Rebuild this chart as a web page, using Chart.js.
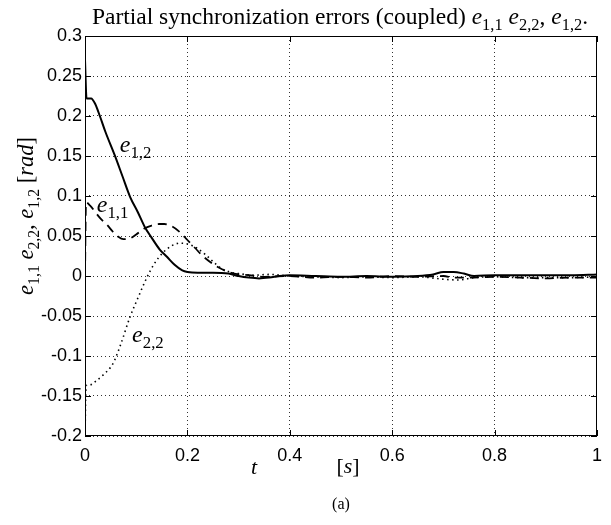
<!DOCTYPE html>
<html>
<head>
<meta charset="utf-8">
<script src="https://cdn.jsdelivr.net/npm/chart.js@4/dist/chart.umd.min.js"></script>
<style>
html,body{margin:0;padding:0;background:#fff;}
#wrap{width:611px;height:525px;position:relative;}
</style>
</head>
<body>
<div id="wrap"><canvas id="c" width="611" height="525"></canvas></div>
<script>
// ---- data ----
const xTickValues = [0, 0.2, 0.4, 0.6, 0.8, 1];
const xTickLabels = ['0', '0.2', '0.4', '0.6', '0.8', '1'];
const yTickValues = [-0.2, -0.15, -0.1, -0.05, 0, 0.05, 0.1, 0.15, 0.2, 0.25, 0.3];
const yTickLabels = ['-0.2', '-0.15', '-0.1', '-0.05', '0', '0.05', '0.1', '0.15', '0.2', '0.25', '0.3'];

// e_{1,2} (solid)
const tE12 = [0, 0.003, 0.012, 0.02, 0.029, 0.04, 0.058, 0.073, 0.088, 0.103, 0.117, 0.13, 0.146, 0.16, 0.175, 0.19, 0.2, 0.22, 0.25, 0.28, 0.3, 0.32, 0.34, 0.36, 0.38, 0.4, 0.45, 0.5, 0.55, 0.6, 0.65, 0.68, 0.7, 0.72, 0.74, 0.76, 0.8, 0.85, 0.9, 0.95, 1];
const vE12 = [0.27, 0.222, 0.222, 0.215, 0.2, 0.18, 0.151, 0.125, 0.099, 0.08, 0.061, 0.048, 0.033, 0.024, 0.014, 0.007, 0.005, 0.004, 0.004, 0.003, 0.0, -0.002, -0.003, -0.002, 0.0, 0.001, 0.0, -0.001, 0.0, -0.001, 0.0, 0.002, 0.005, 0.005, 0.003, 0.0, 0.001, 0.001, 0.001, 0.001, 0.002];

// e_{1,1} (dashed)
const tE11 = [0, 0.002, 0.01, 0.02, 0.03, 0.043, 0.055, 0.065, 0.075, 0.088, 0.1, 0.115, 0.13, 0.145, 0.155, 0.17, 0.185, 0.2, 0.215, 0.23, 0.25, 0.263, 0.28, 0.3, 0.32, 0.35, 0.4, 0.45, 0.5, 0.55, 0.6, 0.65, 0.7, 0.72, 0.75, 0.8, 0.85, 0.9, 0.95, 1];
const vE11 = [0.0, 0.092, 0.088, 0.08, 0.072, 0.064, 0.055, 0.049, 0.046, 0.047, 0.052, 0.059, 0.063, 0.065, 0.065, 0.062, 0.055, 0.045, 0.035, 0.025, 0.015, 0.01, 0.005, 0.002, 0.001, -0.001, 0.0, -0.002, -0.001, -0.002, 0.0, -0.001, 0.0, -0.002, -0.002, -0.001, -0.002, -0.003, -0.002, -0.002];

// e_{2,2} (dotted)
const tE22 = [0, 0.002, 0.01, 0.02, 0.035, 0.055, 0.07, 0.088, 0.105, 0.12, 0.135, 0.152, 0.17, 0.185, 0.2, 0.218, 0.235, 0.25, 0.265, 0.283, 0.3, 0.33, 0.36, 0.4, 0.45, 0.5, 0.55, 0.6, 0.65, 0.7, 0.73, 0.76, 0.8, 0.85, 0.9, 0.95, 1];
const vE22 = [-0.2, -0.137, -0.136, -0.132, -0.124, -0.109, -0.085, -0.051, -0.025, -0.003, 0.015, 0.029, 0.038, 0.041, 0.04, 0.035, 0.027, 0.018, 0.01, 0.005, 0.003, 0.001, 0.002, 0.0, -0.001, -0.002, -0.001, -0.002, -0.001, -0.004, -0.005, -0.002, -0.001, -0.002, -0.002, -0.002, -0.001];

const pts = (ts, vs) => ts.map((t, i) => ({x: t, y: vs[i]}));

// ---- rich text helper (italic / subscript runs) ----
function richWidth(ctx, runs, size, family) {
  let w = 0;
  for (const r of runs) {
    const s = r.sub ? size * 0.7 : size;
    ctx.font = (r.it ? 'italic ' : '') + s + 'px ' + family;
    w += ctx.measureText(r.t).width;
  }
  return w;
}
function drawRich(ctx, runs, x, y, size, family, align) {
  let w = richWidth(ctx, runs, size, family);
  let cx = align === 'center' ? x - w / 2 : (align === 'right' ? x - w : x);
  ctx.textAlign = 'left';
  ctx.textBaseline = 'alphabetic';
  for (const r of runs) {
    const s = r.sub ? size * 0.7 : size;
    ctx.font = (r.it ? 'italic ' : '') + s + 'px ' + family;
    ctx.fillText(r.t, cx, y + (r.sub ? size * 0.25 : 0));
    cx += ctx.measureText(r.t).width;
  }
}
const SERIF = '"Liberation Serif", "DejaVu Serif", serif';
const SANS = '"Liberation Sans", Arial, sans-serif';
const eSym = (a) => [{t: 'e', it: true}, {t: a, sub: true}];

const decor = {
  id: 'decor',
  afterDraw(chart) {
    const ctx = chart.ctx;
    const {left, right, top, bottom} = chart.chartArea;
    const xs = chart.scales.x, ys = chart.scales.y;
    ctx.save();
    ctx.strokeStyle = '#000';
    ctx.lineWidth = 1;
    ctx.setLineDash([]);
    ctx.strokeRect(left + 0.5, top + 0.5, right - left - 1, bottom - top - 1);
    // inner tick marks
    ctx.beginPath();
    for (const v of xTickValues) {
      const px = Math.round(xs.getPixelForValue(v)) + 0.5;
      ctx.moveTo(px, bottom); ctx.lineTo(px, bottom - 6);
      ctx.moveTo(px, top); ctx.lineTo(px, top + 6);
    }
    for (const v of yTickValues) {
      const py = Math.round(ys.getPixelForValue(v)) + 0.5;
      ctx.moveTo(left, py); ctx.lineTo(left + 6, py);
      ctx.moveTo(right, py); ctx.lineTo(right - 6, py);
    }
    ctx.stroke();

    ctx.fillStyle = '#000';
    // title
    const title = [{t: 'Partial synchronization errors (coupled) '}]
      .concat(eSym('1,1'), [{t: ' '}], eSym('2,2'), [{t: ', '}], eSym('1,2'), [{t: '.'}]);
    drawRich(ctx, title, 340, 24, 23.5, SERIF, 'center');

    // curve labels
    drawRich(ctx, eSym('1,2'), xs.getPixelForValue(0.068), ys.getPixelForValue(0.155), 24, SERIF, 'left');
    drawRich(ctx, eSym('1,1'), xs.getPixelForValue(0.023), ys.getPixelForValue(0.08), 24, SERIF, 'left');
    drawRich(ctx, eSym('2,2'), xs.getPixelForValue(0.092), ys.getPixelForValue(-0.082), 24, SERIF, 'left');

    // x label
    drawRich(ctx, [{t: 't', it: true}], 254, 474, 22, SERIF, 'center');
    drawRich(ctx, [{t: '['}, {t: 's', it: true}, {t: ']'}], 348, 473, 22, SERIF, 'center');
    // caption
    drawRich(ctx, [{t: '(a)'}], 341, 509, 16, SERIF, 'center');

    // y label (rotated)
    ctx.translate(33, 216);
    ctx.rotate(-Math.PI / 2);
    const ylab = [].concat(eSym('1,1'), [{t: ' '}], eSym('2,2'), [{t: ', '}], eSym('1,2'), [{t: ' ['}, {t: 'rad', it: true}, {t: ']'}]);
    drawRich(ctx, ylab, 0, 0, 22.5, SERIF, 'center');
    ctx.restore();
  }
};

const gridCommon = {color: '#333', lineWidth: 1, drawTicks: false};

new Chart(document.getElementById('c'), {
  type: 'line',
  data: {
    datasets: [
      {label: 'e11', data: pts(tE11, vE11), borderColor: '#000', borderWidth: 1.8, borderDash: [9, 6], pointRadius: 0, fill: false, cubicInterpolationMode: 'monotone'},
      {label: 'e22', data: pts(tE22, vE22), borderColor: '#000', borderWidth: 1.6, borderDash: [1.5, 3.5], pointRadius: 0, fill: false, cubicInterpolationMode: 'monotone'},
      {label: 'e12', data: pts(tE12, vE12), borderColor: '#000', borderWidth: 2, pointRadius: 0, fill: false, cubicInterpolationMode: 'monotone'}
    ]
  },
  options: {
    responsive: false,
    animation: false,
    events: [],
    layout: {padding: {left: 0, right: 13, top: 36, bottom: 0}},
    plugins: {legend: {display: false}, title: {display: false}, tooltip: {enabled: false}},
    scales: {
      x: {
        type: 'linear', min: 0, max: 1,
        afterBuildTicks: s => { s.ticks = xTickValues.map(v => ({value: v})); },
        afterFit: s => { s.height = 89; },
        grid: gridCommon,
        border: {display: false, dash: [1, 3]},
        ticks: {color: '#000', padding: 9, maxRotation: 0, font: {family: SANS, size: 18},
                callback: (v, i) => xTickLabels[i]}
      },
      y: {
        type: 'linear', min: -0.2, max: 0.3,
        afterBuildTicks: s => { s.ticks = yTickValues.map(v => ({value: v})); },
        afterFit: s => { s.width = 85; },
        grid: gridCommon,
        border: {display: false, dash: [1, 3]},
        ticks: {color: '#000', padding: 3, font: {family: SANS, size: 18},
                callback: (v, i) => yTickLabels[i]}
      }
    }
  },
  plugins: [decor]
});
</script>
</body>
</html>
